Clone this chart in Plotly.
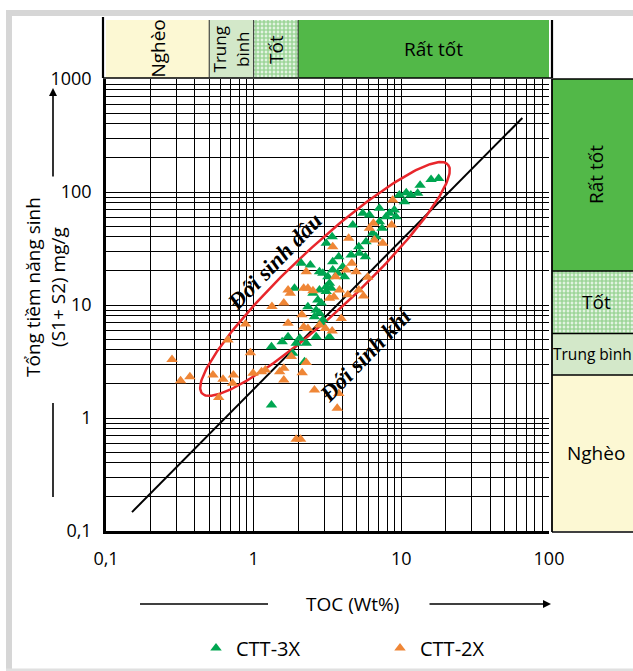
import numpy as np
import plotly.graph_objects as go

W, H = 633, 671

# ---------------- data ----------------
toc_3x = [1.32, 1.32, 1.56, 1.71, 1.84, 1.94, 2.05, 2.27, 2.21, 2.65,
          3.26, 2.58, 2.33, 2.79, 2.87, 1.89, 2.52, 2.79, 2.72, 2.87,
          2.79, 2.94, 3.18, 3.26, 3.35, 3.1, 3.43, 3.71, 4.01, 4.12,
          2.1, 2.42, 3.1, 3.4, 4.57, 4.69, 5.15, 5.48, 5.77, 6.08,
          6.4, 7.1, 7.1, 7.41, 7.88, 8.3, 8.97, 9.2, 9.69, 10.5,
          10.8, 11.6, 12.9, 13.4, 15.9, 17.9, 5.71, 3.77, 3.43, 5.2,
          6.75, 2.94, 2.65, 3.1]
pg_3x = [1.30, 4.28, 4.73, 5.24, 3.74, 4.58, 5.07, 4.58, 3.15, 5.24,
         5.24, 7.88, 9.66, 8.45, 6.89, 14.1, 12.7, 13.6, 11.1, 10.4,
         19.7, 19.1, 17.8, 15.6, 14.1, 14.5, 20.4, 19.1, 21.8, 17.8,
         23.4, 22.6, 35.2, 40.2, 27.7, 51, 32.8, 64.8, 36.3, 62.6,
         43.1, 71.8, 54.6, 47.7, 60.4, 64.8, 69.3, 60.4, 94, 82,
         98.6, 94, 97.3, 115, 129, 132, 26.7, 26.7, 24.2, 28.7,
         40.2, 7.4, 9.0, 13.2]

toc_2x = [0.28, 0.32, 0.37, 0.53, 0.62, 0.73, 0.72, 0.58, 0.67, 0.88,
          0.95, 0.99, 1.13, 1.2, 1.33, 1.6, 1.71, 1.77, 1.71, 2.12,
          2.18, 2.33, 2.52, 2.27, 2.18, 2.33, 1.5, 1.6, 1.6, 1.8,
          2.13, 2.27, 2.58, 1.94, 2.08, 2.79, 3.06, 3.4, 3.92, 3.77,
          3.68, 3.26, 3.49, 3.81, 4.34, 3.58, 4.23, 4.62, 4.94, 5.15,
          5.54, 5.92, 3.43, 4.4, 6.08, 6.47, 6.57, 7.48, 8.6, 8.74]
pg_2x = [3.3, 2.14, 2.32, 2.4, 2.2, 2.4, 2.03, 1.52, 4.9, 6.8,
         3.78, 2.49, 2.57, 2.66, 9.7, 10.4, 13.6, 12.7, 6.9, 8.2,
         14.1, 14.1, 13.4, 19.7, 6.4, 6.2, 2.57, 2.17, 2.75, 3.5,
         2.52, 3.1, 1.77, 0.65, 0.65, 6.65, 6.2, 5.9, 7.6, 1.65,
         1.22, 11.5, 11.8, 13.6, 12.3, 17.8, 20.4, 23.4, 19.7, 13.6,
         12.0, 17.6, 32.8, 38.9, 47.7, 52.8, 37.6, 35.2, 51, 85]

# classification bands
toc_bounds = [0.1, 0.5, 1, 2, 100]
toc_labels = ["Nghèo", "Trung<br>bình", "Tốt", "Rất tốt"]
pg_bounds = [0.1, 2.4, 5.6, 20, 1000]
pg_labels = ["Nghèo", "Trung bình", "Tốt", "Rất tốt"]

# oil / gas dividing line
line_toc = [0.15, 66]
line_pg = [0.147, 452]

# oil-zone ellipse (centre in data units)
ell_toc_c, ell_pg_c = 3.04, 17.0

x_ticks_major = [0.1, 1, 10, 100]
x_ticks_text = ["0,1", "1", "10", "100"]
y_ticks_major = [0.1, 1, 10, 100, 1000]
y_ticks_text = ["0,1", "1", "10", "100", "1000"]

# ---------------- styling / layout geometry ----------------
C_POOR = "#fcf8d3"
C_FAIR = "#d3e8c9"
C_VGOOD = "#52b848"
C_GREEN = "#00a651"
C_ORANGE = "#ef8636"
FONT = "Open Sans"

PX0, PX1 = 106, 549      # plot left / right (px)
PY0, PY1 = 79, 531       # plot top / bottom (px)
XR, YR = [-1, 2], [-1, 3]
DX = (PX1 - PX0) / (XR[1] - XR[0])
DY = (PY1 - PY0) / (YR[1] - YR[0])


def px(x):
    return x / W


def py(y):
    return 1 - y / H


def grid_vals(lo_exp, hi_exp):
    vals = []
    for e in range(lo_exp, hi_exp):
        for k in range(1, 10):
            vals.append(round(k * 10.0 ** e, 6))
    vals.append(10.0 ** hi_exp)
    return vals


def grid_text(vals, majors, texts):
    out = []
    for v in vals:
        t = ""
        for m, s in zip(majors, texts):
            if abs(v - m) < 1e-9 * max(1, m):
                t = s
        out.append(t)
    return out


xv = grid_vals(-1, 2)
yv = grid_vals(-1, 3)

PATTERN = dict(shape=".", fgcolor="#3fae36", bgcolor="white", size=4, solidity=0.75)

fig = go.Figure()

# ---- top classification panel (TOC) ----
for i in range(4):
    a, b = toc_bounds[i], toc_bounds[i + 1]
    kw = dict(x=[a, b, b, a, a], y=[0, 0, 1, 1, 0], xaxis="x", yaxis="y2",
              mode="lines", line=dict(width=0), fill="toself",
              hoverinfo="skip", showlegend=False)
    if i == 2:
        kw["fillcolor"] = "white"
        kw["fillpattern"] = PATTERN
    else:
        kw["fillcolor"] = [C_POOR, C_FAIR, None, C_VGOOD][i]
    fig.add_trace(go.Scatter(**kw))

# ---- right classification panel (S1+S2) ----
for i in range(4):
    a, b = pg_bounds[i], pg_bounds[i + 1]
    kw = dict(x=[0, 1, 1, 0, 0], y=[a, a, b, b, a], xaxis="x2", yaxis="y",
              mode="lines", line=dict(width=0), fill="toself",
              hoverinfo="skip", showlegend=False)
    if i == 2:
        kw["fillcolor"] = "white"
        kw["fillpattern"] = PATTERN
    else:
        kw["fillcolor"] = [C_POOR, C_FAIR, None, C_VGOOD][i]
    fig.add_trace(go.Scatter(**kw))

pg_centres = [10 ** ((np.log10(pg_bounds[i]) + np.log10(pg_bounds[i + 1])) / 2) for i in range(4)]

# ---- dividing line ----
fig.add_trace(go.Scatter(x=line_toc, y=line_pg, mode="lines",
                         line=dict(color="black", width=2),
                         hoverinfo="skip", showlegend=False))

# ---- ellipse (drawn in screen-proportional log space) ----
a_px, b_px, theta = 168, 32, np.deg2rad(43)
t = np.linspace(0, 2 * np.pi, 240)
du = a_px * np.cos(t) * np.cos(theta) - b_px * np.sin(t) * np.sin(theta)
dv = a_px * np.cos(t) * np.sin(theta) + b_px * np.sin(t) * np.cos(theta)
ex = 10 ** (np.log10(ell_toc_c) + du / DX)
ey = 10 ** (np.log10(ell_pg_c) + dv / DY)
fig.add_trace(go.Scatter(x=ex, y=ey, mode="lines",
                         line=dict(color="#e8262b", width=2.5),
                         hoverinfo="skip", showlegend=False))

# ---- samples ----
fig.add_trace(go.Scatter(x=toc_3x, y=pg_3x, mode="markers", name="CTT-3X",
                         marker=dict(symbol="triangle-up", size=10, color=C_GREEN)))
fig.add_trace(go.Scatter(x=toc_2x, y=pg_2x, mode="markers", name="CTT-2X",
                         marker=dict(symbol="triangle-up", size=10, color=C_ORANGE)))

# ---------------- annotations ----------------
ann = []
# top panel labels
for i, lab in enumerate(toc_labels):
    lc = (np.log10(toc_bounds[i]) + np.log10(toc_bounds[i + 1])) / 2
    if i == 3:
        ann.append(dict(x=lc, y=0.5, xref="x", yref="y2", text=lab, showarrow=False,
                        xshift=10, xanchor="center", yanchor="middle",
                        font=dict(size=19, color="black", family=FONT)))
    else:
        ann.append(dict(x=lc, y=0.5, xref="x", yref="y2", text=lab, showarrow=False,
                        textangle=-90, xanchor="center", yanchor="middle",
                        font=dict(size=17 if i == 1 else 19, color="black", family=FONT)))
# right panel labels
for i, lab in enumerate(pg_labels):
    if i == 1:
        ann.append(dict(x=px(592.5), y=np.log10(pg_centres[i]), xref="paper", yref="y",
                        text=lab, showarrow=False, xanchor="center", yanchor="middle",
                        font=dict(size=15.5, color="black", family=FONT)))
    else:
        ann.append(dict(x=0.5, y=np.log10(pg_centres[i]), xref="x2", yref="y", text=lab,
                        showarrow=False, textangle=-90 if i == 3 else 0,
                        xanchor="center", yanchor="middle",
                        font=dict(size=19, color="black", family=FONT)))

# zone labels
zfont = dict(family="Liberation Serif", size=23, color="black")
ann.append(dict(x=np.log10(1.39), y=np.log10(24.5), xref="x", yref="y",
                text="<b><i>Đới sinh dầu</i></b>", showarrow=False,
                xanchor="center", yanchor="middle", textangle=-46, font=zfont))
ann.append(dict(x=np.log10(5.68), y=np.log10(3.61), xref="x", yref="y",
                text="<b><i>Đới sinh khí</i></b>", showarrow=False,
                xanchor="center", yanchor="middle", textangle=-46, font=zfont))

# axis titles
ann.append(dict(x=px(45), y=py(287), xref="paper", yref="paper",
                text="Tổng tiềm năng sinh<br>(S1+ S2) mg/g", showarrow=False,
                xanchor="center", yanchor="middle", textangle=-90,
                font=dict(size=19, color="black", family=FONT)))
ann.append(dict(x=px(352), y=py(604), xref="paper", yref="paper",
                text="TOC (Wt%)", showarrow=False, xanchor="center", yanchor="middle",
                font=dict(size=19, color="black", family=FONT)))
# arrows
ann.append(dict(x=px(53), y=py(88), xref="paper", yref="paper", text="",
                showarrow=True, ax=0, ay=90, arrowhead=2, arrowsize=1,
                arrowwidth=1.6, arrowcolor="black"))
ann.append(dict(x=px(551), y=py(604), xref="paper", yref="paper", text="",
                showarrow=True, ax=-123, ay=0, arrowhead=2, arrowsize=1,
                arrowwidth=1.6, arrowcolor="black"))

# ---------------- shapes (frames) ----------------
def lp(x0, y0, x1, y1, color="black", width=1.5):
    return dict(type="line", xref="paper", yref="paper", x0=px(x0), y0=py(y0),
                x1=px(x1), y1=py(y1), line=dict(color=color, width=width))


def xpix(v):
    return PX0 + (np.log10(v) - XR[0]) * DX


def ypix(v):
    return PY1 - (np.log10(v) - YR[0]) * DY


shapes = [
    lp(53, 403, 53, 497, width=1.6),
    lp(140, 604, 268, 604, width=1.6),
    # outer grey frame
    lp(9, 13, 9, 671, color="#d6d6d6", width=6),
    lp(6, 13, 633, 13, color="#d6d6d6", width=6),
    lp(6, 670, 633, 670, color="#e0e0e0", width=3),
    # top panel frame
    lp(103, 17, 103, 78, width=2.2),
    lp(552, 20, 552, 78, width=2.2),
    lp(103, 78, 552, 78, width=1.5),
    # right panel frame
    lp(552, 79, 552, 532, width=1.8),
    lp(552, 79, 633, 79, width=1.5),
    lp(552, 532, 633, 532, width=1.5),
]
for v in toc_bounds[1:-1]:
    xp = xpix(v)
    shapes.append(lp(xp, 20, xp, 78, color="#333333", width=1))
for v in pg_bounds[1:-1]:
    yp = ypix(v)
    shapes.append(lp(552, yp, 633, yp, width=1.5))

axis_common = dict(type="log", showgrid=True, gridcolor="black", gridwidth=1,
                   zeroline=False, showline=True, linecolor="black", linewidth=2.5,
                   ticks="", tickfont=dict(size=18, color="black", family=FONT),
                   automargin=False, fixedrange=True)

fig.update_layout(
    width=W, height=H, autosize=False,
    margin=dict(l=0, r=0, t=0, b=0),
    paper_bgcolor="white", plot_bgcolor="white",
    font=dict(family=FONT, color="black"),
    xaxis=dict(range=XR, domain=[px(PX0), px(PX1)], anchor="y",
               tickmode="array", tickvals=xv, ticktext=grid_text(xv, x_ticks_major, x_ticks_text),
               ticklabelstandoff=10, **axis_common),
    yaxis=dict(range=YR, domain=[py(PY1), py(PY0)], anchor="x",
               tickmode="array", tickvals=yv, ticktext=grid_text(yv, y_ticks_major, y_ticks_text),
               ticklabelstandoff=8, **axis_common),
    yaxis2=dict(range=[0, 1], domain=[py(78), py(20)], anchor="x", visible=False,
                fixedrange=True),
    xaxis2=dict(range=[0, 0.92], domain=[px(552), 1], anchor="y", visible=False,
                fixedrange=True),
    showlegend=True,
    legend=dict(orientation="h", x=px(196), y=py(648), xanchor="left", yanchor="middle",
                entrywidth=139, entrywidthmode="pixels",
                font=dict(size=20, color="black", family=FONT),
                bgcolor="rgba(0,0,0,0)", itemwidth=30),
    annotations=ann,
    shapes=shapes,
)

fig.write_html("out.html")
